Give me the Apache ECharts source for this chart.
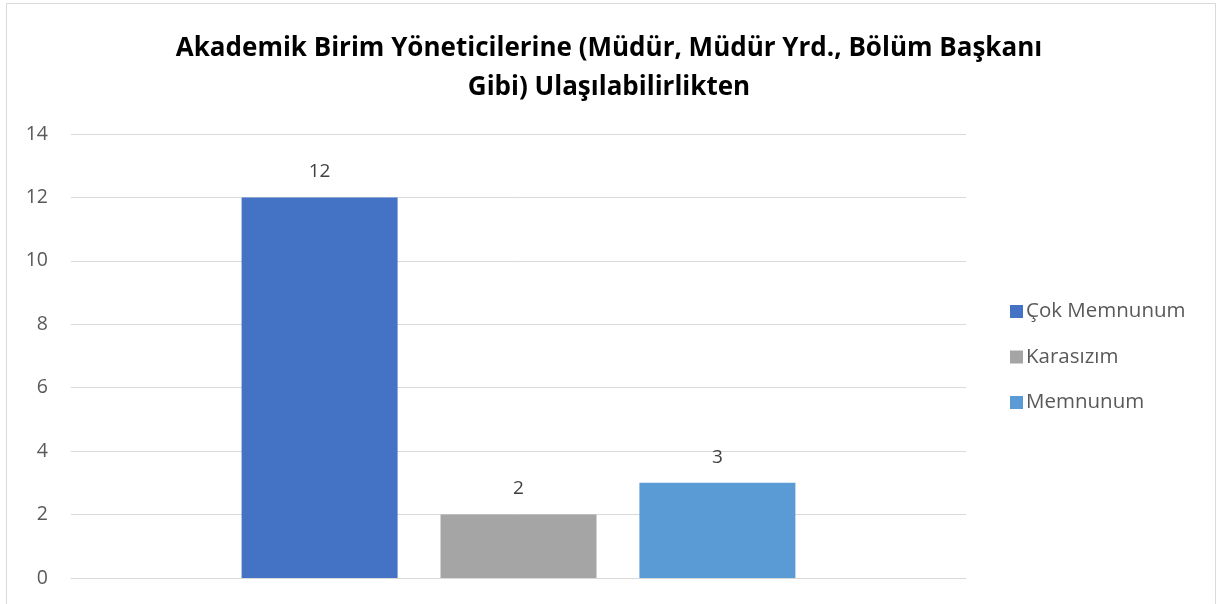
<!DOCTYPE html>
<html>
<head>
<meta charset="utf-8">
<script src="https://cdn.jsdelivr.net/npm/echarts@6/dist/echarts.min.js"></script>
<style>
  html, body { margin: 0; padding: 0; background: #fff; }
  #chart { width: 1217px; height: 604px; }
</style>
</head>
<body>
<div id="chart"></div>
<script>
const categories = ['']
const seriesNames = ['Çok Memnunum', 'Karasızım', 'Memnunum']
const seriesValues = [[12], [2], [3]]
const seriesColors = ['#4472C4', '#A5A5A5', '#5B9BD5']
const yTicks = { min: 0, max: 14, interval: 2 }

const font = 'Open Sans, Liberation Sans, sans-serif'
const chart = echarts.init(document.getElementById('chart'))

chart.setOption({
  backgroundColor: '#fff',
  animation: false,
  title: {
    text: 'Akademik Birim Yöneticilerine (Müdür, Müdür Yrd., Bölüm Başkanı\nGibi) Ulaşılabilirlikten',
    left: 604,
    top: 24,
    textAlign: 'center',
    textStyle: { fontFamily: font, fontSize: 26, fontWeight: 'bold', color: '#000', lineHeight: 39 }
  },
  legend: {
    orient: 'vertical',
    left: 1005,
    top: 296,
    itemWidth: 13,
    itemHeight: 13,
    itemGap: 24.5,
    icon: 'rect',
    textStyle: { fontFamily: font, fontSize: 20.5, color: '#595959', padding: [0, 0, 0, -2] },
    data: seriesNames
  },
  grid: { left: 71, right: 251, top: 134, bottom: 26, containLabel: false },
  xAxis: {
    type: 'category',
    data: categories,
    axisLine: { show: true, lineStyle: { color: '#d9d9d9', width: 1 } },
    axisTick: { show: false },
    axisLabel: { show: false }
  },
  yAxis: {
    type: 'value',
    min: yTicks.min,
    max: yTicks.max,
    interval: yTicks.interval,
    axisLine: { show: false },
    axisTick: { show: false },
    axisLabel: { fontFamily: font, fontSize: 19.5, color: '#595959', margin: 23 },
    splitLine: { lineStyle: { color: '#d9d9d9', width: 1 } }
  },
  series: seriesNames.map((name, i) => ({
    name,
    type: 'bar',
    data: seriesValues[i],
    color: seriesColors[i],
    barWidth: 156,
    barGap: '27.5%',
    label: {
      show: true,
      position: 'top',
      distance: 16,
      fontFamily: font,
      fontSize: 19,
      color: '#404040'
    }
  })),
  graphic: [{
    type: 'rect',
    shape: { x: 6.5, y: 3.5, width: 1209, height: 700 },
    style: { fill: 'none', stroke: '#d9d9d9', lineWidth: 1 },
    silent: true
  }]
})
</script>
</body>
</html>
